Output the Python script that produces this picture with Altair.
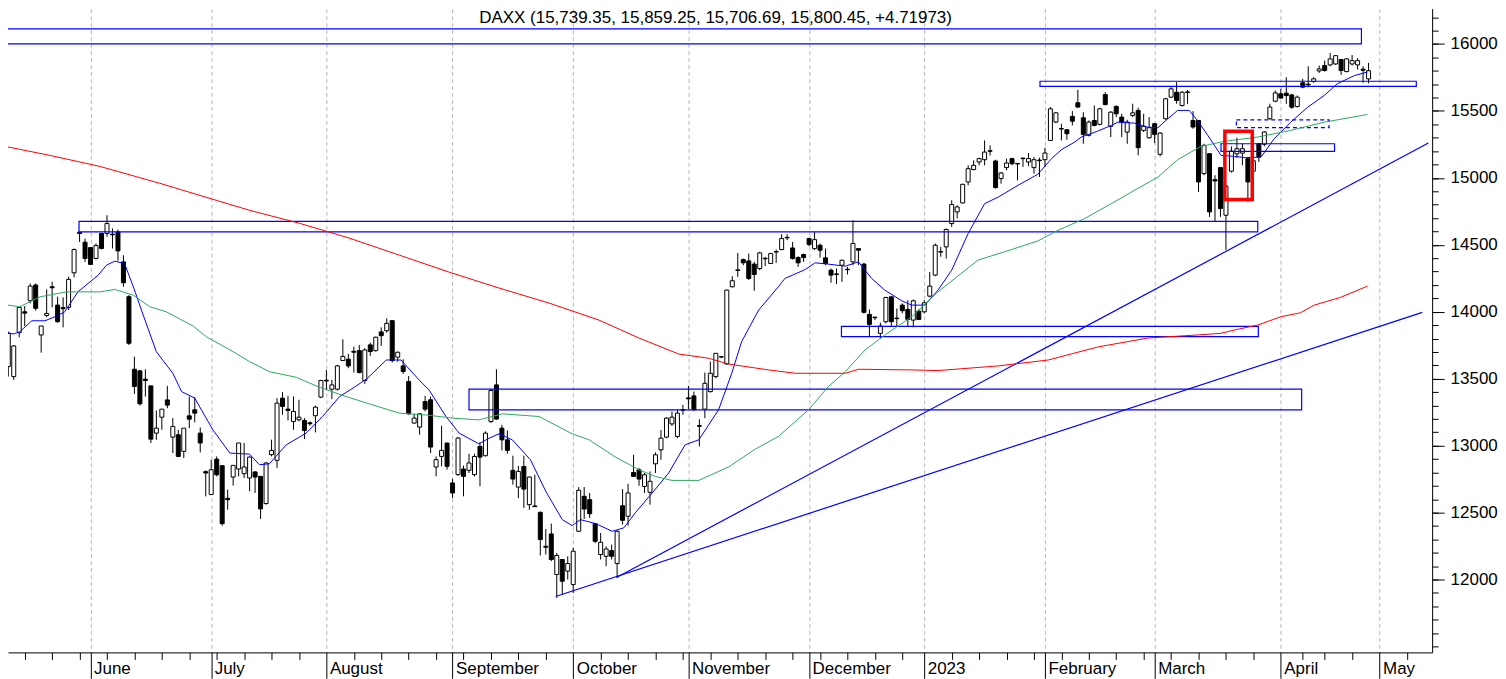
import altair as alt
import pandas as pd

# ---------------- data ----------------
# trading-day index: 0 = 1 June 2022
FIRST_DAY = -16
OPEN = [13550, 13591, 13516, 13844, 14000, 14083, 14200, 13827, 13973, 14187, 14050, 14031, 14033, 14291, 14594, 14520,
        14480, 14398, 14585, 14585, 14580, 14597, 14373, 14113, 13571, 13559, 13497, 13447, 13094, 13213, 13342, 13064,
        13082, 12958, 13223, 13268, 13094, 12806, 12635, 12900, 12851, 12607, 12766, 12826, 12791, 12759, 12804, 12771,
        12568, 12933, 12891, 13355, 13273, 13181, 13194, 13189, 13171, 13224, 13363, 13489, 13422, 13422, 13636, 13646,
        13705, 13710, 13487, 13753, 13710, 13850, 13859, 13934, 13661, 13596, 13479, 13169, 13139, 13330, 13343, 12841,
        12920, 13020, 12722, 12784, 12826, 12816, 12784, 12995, 12925, 13181, 13454, 13131, 13044, 12816, 12691, 12845,
        12560, 12550, 12502, 12249, 12341, 12038, 12150, 12063, 11963, 12361, 12622, 12597, 12418, 12187, 12174, 12217,
        12120, 12552, 12473, 12800, 12820, 12696, 12652, 12865, 12969, 13064, 13163, 13069, 13270, 13357, 13372, 13150,
        13273, 13404, 13516, 13665, 13611, 14187, 14313, 14390, 14380, 14356, 14323, 14400, 14361, 14450, 14465, 14556,
        14477, 14405, 14428, 14547, 14472, 14497, 14403, 14311, 14283, 14348, 14318, 14373, 14472, 14356, 13981, 13960,
        13839, 13926, 14112, 13953, 14050, 14018, 13938, 14005, 14000, 14117, 14274, 14450, 14485, 14659, 14746, 14813,
        14970, 15062, 15119, 15136, 15203, 15126, 14995, 15077, 15144, 15108, 15148, 15119, 15077, 15133, 15136, 15280,
        15417, 15369, 15360, 15459, 15561, 15449, 15318, 15429, 15400, 15623, 15385, 15534, 15454, 15342, 15467, 15504,
        15355, 15300, 15405, 15176, 15442, 15603, 15640, 15541, 15642, 15429, 15429, 15032, 15181, 14987, 15077, 14721,
        15050, 15180, 15185, 15144, 15050, 15256, 15251, 15442, 15573, 15628, 15633, 15620, 15533, 15710, 15700, 15720,
        15799, 15839, 15844, 15851, 15884, 15794, 15851, 15844, 15812, 15739.35]
HIGH = [13727, 13852, 13752, 14038, 14043, 14212, 14212, 13894, 14167, 14224, 14113, 14108, 14262, 14473, 14597, 14547,
        14480, 14510, 14590, 14721, 14622, 14614, 14423, 14125, 13665, 13566, 13571, 13447, 13263, 13273, 13447, 13206,
        13119, 13131, 13367, 13362, 13136, 12816, 12895, 12920, 12851, 12672, 12853, 13020, 13020, 12920, 12809, 12771,
        12876, 13045, 13355, 13400, 13372, 13367, 13343, 13206, 13181, 13298, 13492, 13566, 13492, 13604, 13795, 13686,
        13740, 13752, 13728, 13770, 13815, 13884, 13951, 13934, 13703, 13646, 13521, 13238, 13240, 13372, 13367, 12920,
        13149, 13020, 12752, 13064, 12851, 12940, 12940, 13025, 13107, 13422, 13571, 13156, 13114, 12925, 12850, 12925,
        12771, 12783, 12510, 12378, 12418, 12199, 12150, 12174, 12237, 12691, 12691, 12647, 12423, 12348, 12249, 12261,
        12368, 12676, 12716, 12932, 12833, 12796, 12808, 12950, 13118, 13213, 13255, 13268, 13305, 13447, 13404, 13198,
        13546, 13628, 13690, 13670, 14167, 14266, 14440, 14398, 14435, 14373, 14448, 14410, 14440, 14465, 14579, 14579,
        14522, 14415, 14435, 14554, 14597, 14510, 14472, 14323, 14323, 14390, 14336, 14684, 14472, 14366, 14018, 13963,
        13919, 14112, 14117, 14025, 14063, 14087, 14092, 14018, 14087, 14298, 14510, 14485, 14622, 14833, 14796, 14957,
        15094, 15131, 15151, 15280, 15243, 15136, 15044, 15144, 15151, 15111, 15151, 15186, 15156, 15151, 15226, 15529,
        15491, 15404, 15360, 15499, 15658, 15491, 15429, 15541, 15524, 15640, 15499, 15541, 15479, 15434, 15554, 15524,
        15479, 15454, 15409, 15342, 15598, 15678, 15715, 15647, 15657, 15499, 15429, 15255, 15181, 15020, 15077, 14945,
        15235, 15300, 15255, 15156, 15160, 15256, 15350, 15554, 15653, 15665, 15752, 15628, 15615, 15740, 15834, 15752,
        15839, 15876, 15933, 15918, 15889, 15894, 15918, 15894, 15834, 15859.25]
LOW = [13524, 13516, 13491, 13809, 13894, 14063, 14008, 13695, 13959, 14033, 13919, 13884, 14013, 14257, 14522, 14373,
       14349, 14391, 14465, 14560, 14473, 14381, 14187, 13752, 13387, 13300, 13367, 13020, 13044, 13119, 13280, 12945,
       12915, 12908, 13131, 13174, 12950, 12622, 12635, 12771, 12403, 12523, 12702, 12771, 12759, 12660, 12647, 12453,
       12560, 12920, 12834, 13231, 13189, 13119, 13181, 13050, 13149, 13099, 13355, 13417, 13348, 13412, 13636, 13579,
       13546, 13541, 13462, 13671, 13703, 13745, 13844, 13621, 13628, 13536, 13231, 13164, 13082, 13256, 12945, 12771,
       12846, 12821, 12610, 12776, 12622, 12796, 12771, 12697, 12920, 13169, 13194, 12965, 12940, 12709, 12609, 12535,
       12522, 12542, 12180, 12187, 12137, 11864, 11889, 12001, 11901, 12361, 12453, 12460, 12274, 12150, 12100, 12150,
       12013, 12411, 12403, 12766, 12701, 12647, 12560, 12796, 12895, 13056, 13148, 13056, 13231, 13273, 13263, 12994,
       13206, 13397, 13504, 13653, 13603, 14182, 14261, 14348, 14237, 14157, 14311, 14341, 14356, 14366, 14460, 14535,
       14390, 14336, 14373, 14490, 14460, 14405, 14348, 14217, 14207, 14224, 14279, 14348, 14348, 13988, 13819, 13938,
       13802, 13914, 13889, 13894, 13988, 13889, 13884, 13938, 13988, 14107, 14266, 14411, 14398, 14634, 14697, 14808,
       14945, 15057, 15094, 15094, 15168, 14920, 14957, 15057, 15094, 14982, 15082, 15087, 15032, 15007, 15082, 15275,
       15409, 15280, 15285, 15392, 15524, 15255, 15310, 15385, 15392, 15541, 15305, 15454, 15305, 15255, 15454, 15168,
       15342, 15293, 15260, 15161, 15434, 15598, 15554, 15533, 15553, 15367, 14895, 15020, 14709, 14672, 14709, 14462,
       15040, 15150, 15094, 14821, 15000, 15119, 15236, 15434, 15565, 15591, 15553, 15516, 15526, 15670, 15678, 15710,
       15784, 15794, 15834, 15844, 15769, 15789, 15839, 15809, 15710, 15706.69]
CLOSE = [13545, 13839, 13745, 14033, 13990, 14192, 14026, 13894, 13988, 14180, 13926, 14023, 14242, 14465, 14585, 14398,
         14354, 14495, 14473, 14659, 14575, 14455, 14217, 13765, 13442, 13313, 13487, 13049, 13131, 13273, 13303, 13144,
         12920, 13131, 13198, 13243, 13020, 12796, 12821, 12783, 12418, 12597, 12853, 13020, 12841, 12915, 12766, 12528,
         12871, 12965, 13318, 13293, 13263, 13256, 13213, 13114, 13164, 13288, 13487, 13484, 13454, 13596, 13666, 13596,
         13698, 13546, 13715, 13703, 13810, 13822, 13914, 13636, 13698, 13554, 13238, 13206, 13238, 13273, 12990, 12896,
         12965, 12846, 12647, 13057, 12771, 12871, 12920, 12915, 13094, 13412, 13199, 13044, 12965, 12751, 12808, 12676,
         12766, 12545, 12299, 12242, 12150, 12180, 11988, 12120, 12212, 12667, 12527, 12492, 12286, 12279, 12229, 12174,
         12361, 12443, 12647, 12771, 12751, 12783, 12734, 12932, 13056, 13206, 13213, 13243, 13265, 13350, 13268, 13145,
         13466, 13541, 13690, 13662, 14162, 14232, 14309, 14366, 14249, 14279, 14440, 14396, 14435, 14446, 14547, 14552,
         14398, 14366, 14405, 14502, 14539, 14460, 14361, 14274, 14279, 14385, 14314, 14510, 14460, 13996, 13906, 13956,
         13894, 14107, 13926, 13949, 14008, 13943, 14082, 13943, 14067, 14192, 14497, 14446, 14615, 14801, 14783, 14952,
         15069, 15094, 15144, 15193, 15199, 14928, 15037, 15111, 15106, 15104, 15144, 15144, 15136, 15129, 15186, 15516,
         15486, 15365, 15330, 15424, 15529, 15325, 15417, 15392, 15516, 15548, 15491, 15479, 15417, 15417, 15486, 15226,
         15385, 15375, 15325, 15335, 15591, 15665, 15578, 15640, 15638, 15380, 14970, 15243, 14746, 14977, 14771, 14938,
         15200, 15218, 15218, 14970, 15128, 15156, 15343, 15529, 15635, 15596, 15615, 15528, 15603, 15678, 15695, 15740,
         15814, 15802, 15889, 15913, 15802, 15889, 15876, 15876, 15804, 15800.45]

MONTH_DAYS = [0, 22, 43, 66, 88, 109, 131, 152, 174, 194, 217, 235]
MONTH_NAMES = ["June", "July", "August", "September", "October", "November",
               "December", "2023", "February", "March", "April", "May"]
WEEK_DAYS = [-12, -7, -2, 3, 8, 13, 18, 23, 28, 33, 38, 48, 53, 58, 63, 68, 73, 78, 83,
             93, 98, 103, 108, 113, 118, 123, 128, 133, 138, 143, 148, 157, 162, 167, 172,
             177, 182, 187, 192, 197, 202, 207, 212, 221, 225, 230, 240]
PRICE_LABELS = [12000, 12500, 13000, 13500, 14000, 14500, 15000, 15500, 16000]
PRICE_MINOR = list(range(11500, 16300, 100))

BLUE_MA = [(-16.5, 13859), (-14.1, 13834), (-12.9, 13851), (-10.7, 13933), (-8.3, 13933), (-6.2, 13968),
           (-4.7, 14000), (-2.3, 14149), (1.4, 14274), (2.9, 14348), (4.4, 14378), (6.2, 14361), (7.8, 14187),
           (9.6, 13976), (12.0, 13702), (15.0, 13541), (16.6, 13404), (19.0, 13355), (22.3, 13119), (25.4, 12945),
           (29.0, 12937), (30.8, 12858), (32.6, 12865), (35.7, 13007), (39.3, 13094), (42.3, 13218), (45.4, 13367),
           (48.1, 13437), (50.5, 13504), (53.9, 13640), (56.6, 13640), (59.9, 13491), (61.7, 13417), (64.8, 13218),
           (67.2, 13094), (70.8, 13014), (72.7, 13057), (74.5, 13089), (76.9, 13044), (80.2, 12895), (83.0, 12659),
           (86.0, 12448), (87.8, 12403), (89.3, 12448), (92.1, 12418), (95.1, 12361), (97.2, 12386), (99.3, 12498),
           (102.4, 12647), (105.4, 12796), (108.4, 13007), (110.9, 13044), (114.5, 13268), (116.9, 13541),
           (118.7, 13777), (121.8, 14013), (125.4, 14187), (126.6, 14249), (130.3, 14316), (132.1, 14366),
           (134.5, 14356), (137.6, 14341), (140.0, 14373), (142.4, 14249), (144.8, 14162), (147.9, 14082),
           (149.7, 14050), (152.1, 14050), (154.5, 14162), (157.0, 14311), (160.0, 14585), (163.0, 14808),
           (165.5, 14857), (169.1, 14945), (172.7, 15027), (175.2, 15144), (177.0, 15211), (179.4, 15267),
           (180.6, 15305), (183.6, 15349), (186.1, 15392), (187.3, 15416), (190.3, 15409), (192.7, 15379),
           (194.6, 15375), (196.4, 15442), (198.2, 15504), (200.3, 15504), (201.8, 15429), (203.7, 15317),
           (206.1, 15168), (208.5, 15161), (210.6, 15151), (213.4, 15156), (215.8, 15293), (218.8, 15416),
           (221.9, 15528), (224.9, 15615), (227.3, 15703), (230.4, 15764), (232.8, 15791)]
GREEN_MA = [(-16.5, 14058), (-12.9, 14038), (-9.2, 14112), (-4.4, 14149), (1.7, 14149), (4.4, 14167), (7.8, 14125),
            (10.8, 14038), (13.8, 14000), (18.7, 13894), (21.1, 13814), (26.0, 13702), (29.0, 13628), (32.6, 13553),
            (37.5, 13511), (41.7, 13437), (46.6, 13367), (51.4, 13305), (56.3, 13243), (61.1, 13230), (66.0, 13206),
            (70.8, 13193), (75.1, 13238), (81.8, 13218), (87.8, 13089), (90.9, 13044), (95.7, 12915), (100.0, 12820),
            (103.0, 12770), (106.0, 12741), (110.9, 12741), (116.4, 12843), (121.2, 12975), (125.4, 13069),
            (130.9, 13268), (134.5, 13441), (137.6, 13553), (141.2, 13715), (144.8, 13826), (149.7, 13963),
            (154.5, 14149), (161.8, 14386), (167.9, 14465), (172.7, 14529), (176.4, 14609), (181.2, 14696),
            (186.1, 14808), (190.3, 14907), (194.6, 15006), (198.2, 15136), (202.4, 15235), (206.7, 15273),
            (212.8, 15305), (218.8, 15355), (224.9, 15416), (232.8, 15474)]
RED_MA = [(-16.5, 15243), (-7.4, 15168), (1.7, 15086), (12.6, 14960), (22.9, 14833), (29.0, 14758), (38.1, 14661),
          (47.2, 14550), (56.3, 14423), (65.4, 14296), (74.5, 14177), (83.6, 14065), (92.7, 13938), (100.0, 13804),
          (107.2, 13685), (112.7, 13653), (116.3, 13610), (123.6, 13566), (128.5, 13541), (137.6, 13541),
          (140.0, 13571), (149.7, 13566), (154.5, 13561), (165.5, 13596), (174.6, 13640), (183.6, 13737),
          (192.7, 13804), (201.8, 13827), (206.0, 13839), (209.1, 13869), (212.8, 13901), (217.0, 13963),
          (220.6, 13993), (223.1, 14050), (227.9, 14108), (232.8, 14192)]

# horizontal zones: (start day, end day, low, high)
ZONES = [(-16.5, 234.9, 16284, 16305), (-16.5, 231.7, 16001, 16113), (173.1, 241.7, 15683, 15722),
         (206.1, 226.8, 15198, 15255), (-2.1, 212.8, 14597, 14676), (136.9, 212.9, 13814, 13891),
         (69.0, 220.8, 13268, 13422)]
DASHED_ZONE = [(208.9, 225.8, 15375, 15434)]
RED_ZONE = [(206.8, 211.8, 14838, 15349)]
# trend lines: (start day, start value, end day, end value)
TRENDS = [(84.8, 11874, 242.8, 13996), (95.9, 12016, 243.9, 15260)]

TITLE = "DAXX (15,739.35, 15,859.25, 15,706.69, 15,800.45, +4.71973)"

# ---------------- chart ----------------
FONT = "Liberation Sans"
X_MIN, X_MAX = -15.047, 244.59
Y_MIN, Y_MAX = 11456.5, 16263.9

candles = pd.DataFrame({
    "day": list(range(FIRST_DAY, FIRST_DAY + len(OPEN))),
    "open": OPEN, "high": HIGH, "low": LOW, "close": CLOSE,
})

ma_rows = []
for name, pts in (("blue", BLUE_MA), ("green", GREEN_MA), ("red", RED_MA)):
    for d, v in pts:
        ma_rows.append({"day": d, "value": v, "series": name})
ma_df = pd.DataFrame(ma_rows)

def zone_df(z):
    return pd.DataFrame(z, columns=["d0", "d1", "lo", "hi"])

trend_df = pd.DataFrame(TRENDS, columns=["d0", "v0", "d1", "v1"])

xs = alt.Scale(domain=[X_MIN, X_MAX], nice=False, zero=False, padding=0)
ys = alt.Scale(domain=[Y_MIN, Y_MAX], nice=False, zero=False, padding=0)

names_js = "[" + ",".join("'%s'" % n for n in MONTH_NAMES) + "]"
days_js = "[" + ",".join(str(d) for d in MONTH_DAYS) + "]"

month_axis = alt.Axis(orient="bottom", values=MONTH_DAYS, title=None,
                      labelExpr=f"{names_js}[indexof({days_js}, datum.value)]",
                      tickSize=26, tickColor="black", tickWidth=1,
                      domainColor="black", domainWidth=1,
                      labelAlign="left", labelBaseline="top", labelPadding=-18, labelOffset=3,
                      labelFont=FONT, labelFontSize=17, labelColor="black",
                      labelOverlap=False, labelFlush=False, labelBound=False,
                      grid=True, gridDash=[4, 3], gridColor="#b8b8b8", gridWidth=1)
week_axis = alt.Axis(orient="bottom", values=WEEK_DAYS, title=None, labels=False,
                     tickSize=7, tickColor="black", tickWidth=1, domain=False, grid=False)
price_axis = alt.Axis(orient="right", values=PRICE_LABELS, title=None, format="d",
                      tickSize=12, tickColor="black", tickWidth=1,
                      domainColor="black", domainWidth=1,
                      labelPadding=6, labelFont=FONT, labelFontSize=17, labelColor="black",
                      labelAlign="left", labelBaseline="middle", labelOverlap=False,
                      labelFlush=False, grid=False)
price_minor = alt.Axis(orient="right", values=PRICE_MINOR, title=None, labels=False,
                       tickSize=6, tickColor="black", tickWidth=1, domain=False, grid=False)

wicks = alt.Chart(candles).mark_rule(color="black", strokeWidth=1, clip=True).encode(
    x=alt.X("day:Q", scale=xs, axis=month_axis),
    y=alt.Y("low:Q", scale=ys, axis=price_axis),
    y2="high:Q",
)
bodies = alt.Chart(candles).mark_bar(size=4, stroke="black", strokeWidth=1, clip=True).encode(
    x=alt.X("day:Q", scale=xs, axis=week_axis),
    y=alt.Y("open:Q", scale=ys, axis=price_minor),
    y2="close:Q",
    fill=alt.condition("datum.close >= datum.open", alt.value("white"), alt.value("black")),
)
ma_lines = alt.Chart(ma_df).mark_line(strokeWidth=1, clip=True).encode(
    x=alt.X("day:Q", scale=xs, axis=None),
    y=alt.Y("value:Q", scale=ys, axis=None),
    color=alt.Color("series:N", legend=None,
                    scale=alt.Scale(domain=["blue", "green", "red"],
                                    range=["#0000ff", "#2ea860", "#ff0000"])),
    detail="series:N",
)
zones = alt.Chart(zone_df(ZONES)).mark_rect(fill="white", fillOpacity=0, stroke="#0000ff",
                                            strokeWidth=1.2, clip=True).encode(
    x=alt.X("d0:Q", scale=xs, axis=None), x2="d1:Q",
    y=alt.Y("lo:Q", scale=ys, axis=None), y2="hi:Q",
)
dashed = alt.Chart(zone_df(DASHED_ZONE)).mark_rect(fill="white", fillOpacity=0, stroke="#0000ff",
                                                   strokeWidth=1.2, strokeDash=[4, 3], clip=True).encode(
    x=alt.X("d0:Q", scale=xs, axis=None), x2="d1:Q",
    y=alt.Y("lo:Q", scale=ys, axis=None), y2="hi:Q",
)
trends = alt.Chart(trend_df).mark_rule(color="#0000ff", strokeWidth=1.2, clip=True).encode(
    x=alt.X("d0:Q", scale=xs, axis=None), x2="d1:Q",
    y=alt.Y("v0:Q", scale=ys, axis=None), y2="v1:Q",
)
red_box = alt.Chart(zone_df(RED_ZONE)).mark_rect(fill="white", fillOpacity=0, stroke="#ff0000",
                                                 strokeWidth=3.5, clip=True).encode(
    x=alt.X("d0:Q", scale=xs, axis=None), x2="d1:Q",
    y=alt.Y("lo:Q", scale=ys, axis=None), y2="hi:Q",
)
title = alt.Chart(pd.DataFrame({"t": [TITLE]})).mark_text(
    font=FONT, fontSize=17, color="black", align="center", baseline="alphabetic"
).encode(text="t:N", x=alt.value(709), y=alt.value(14.7))

chart = alt.layer(
    wicks, bodies, zones, dashed, trends, ma_lines, red_box, title
).resolve_axis(
    x="independent", y="independent"
).properties(
    width=1427, height=645,
    autosize=alt.AutoSizeParams(type="none"),
    padding={"left": 0, "top": 0, "right": 66, "bottom": 26},
).configure(background="white").configure_view(strokeWidth=0)

chart.save("out.html", embed_options={"renderer": "svg", "actions": False})
